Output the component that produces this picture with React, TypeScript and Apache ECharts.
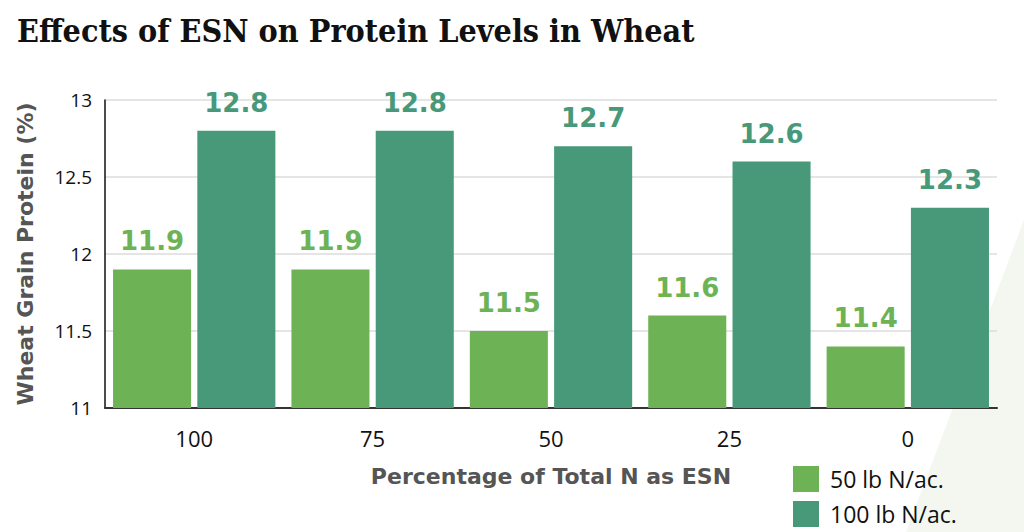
import React, { useEffect, useRef } from "react";
import * as echarts from "echarts";

const categories = ["100", "75", "50", "25", "0"];
const series50 = [11.9, 11.9, 11.5, 11.6, 11.4];
const series100 = [12.8, 12.8, 12.7, 12.6, 12.3];
const seriesNames = ["50 lb N/ac.", "100 lb N/ac."];
const colors = ["#6db356", "#47997a"];

export default function App() {
  const ref = useRef<HTMLDivElement>(null);
  useEffect(() => {
    const chart = echarts.init(ref.current!, null, { renderer: "svg" });
    const labelStyle = (c: string) => ({
      show: true,
      position: "top",
      distance: 15,
      color: c,
      fontFamily: "'DejaVu Sans', sans-serif",
      fontWeight: "bold",
      fontSize: 26,
    });
    chart.setOption({
      animation: false,
      backgroundColor: "#ffffff",
      title: {
        text: "Effects of ESN on Protein Levels in Wheat",
        left: 12,
        top: 10,
        textStyle: {
          fontFamily: "'DejaVu Serif Condensed', 'Liberation Serif', serif",
          fontWeight: "bold",
          fontSize: 32,
          color: "#111",
        },
      },
      graphic: [
        {
          type: "polygon",
          z: -10,
          silent: true,
          shape: { points: [[1024, 220], [906, 532], [1024, 532]] },
          style: { fill: "#f3f7f0" },
        },
      ],
      legend: {
        orient: "vertical",
        left: 793,
        top: 466,
        padding: 0,
        itemWidth: 26,
        itemHeight: 26,
        itemGap: 9,
        icon: "rect",
        textStyle: {
          fontFamily: "'Open Sans', sans-serif",
          fontSize: 23,
          color: "#111",
          padding: [0, 0, 0, 6],
        },
        data: seriesNames,
      },
      grid: { left: 105, right: 27, top: 100, bottom: 124 },
      xAxis: {
        type: "category",
        data: categories,
        name: "Percentage of Total N as ESN",
        nameLocation: "middle",
        nameGap: 57,
        nameTextStyle: {
          fontFamily: "'DejaVu Sans', sans-serif",
          fontWeight: "bold",
          fontSize: 22,
          color: "#555",
        },
        axisLine: { lineStyle: { color: "#333", width: 2 } },
        axisTick: { show: false },
        axisLabel: {
          margin: 19,
          fontFamily: "'Open Sans', sans-serif",
          fontSize: 22,
          color: "#111",
        },
      },
      yAxis: {
        type: "value",
        min: 11,
        max: 13,
        interval: 0.5,
        name: "Wheat Grain Protein (%)",
        nameLocation: "middle",
        nameGap: 69,
        nameTextStyle: {
          fontFamily: "'DejaVu Sans', sans-serif",
          fontWeight: "bold",
          fontSize: 22,
          color: "#555",
        },
        axisLine: { show: true, lineStyle: { color: "#111", width: 1.5 } },
        axisTick: { show: false },
        splitLine: { lineStyle: { color: "#dddddd", width: 1.5 } },
        axisLabel: {
          margin: 13,
          fontFamily: "'Open Sans', sans-serif",
          fontSize: 19,
          color: "#111",
        },
      },
      series: [
        {
          name: seriesNames[0],
          type: "bar",
          data: series50,
          itemStyle: { color: colors[0] },
          label: labelStyle(colors[0]),
          barGap: "8%",
          barCategoryGap: "9%",
        },
        {
          name: seriesNames[1],
          type: "bar",
          data: series100,
          itemStyle: { color: colors[1] },
          label: labelStyle(colors[1]),
        },
      ],
    });
    return () => chart.dispose();
  }, []);
  return <div ref={ref} style={{ width: 1024, height: 532, position: "absolute", left: 0, top: 0 }} />;
}
